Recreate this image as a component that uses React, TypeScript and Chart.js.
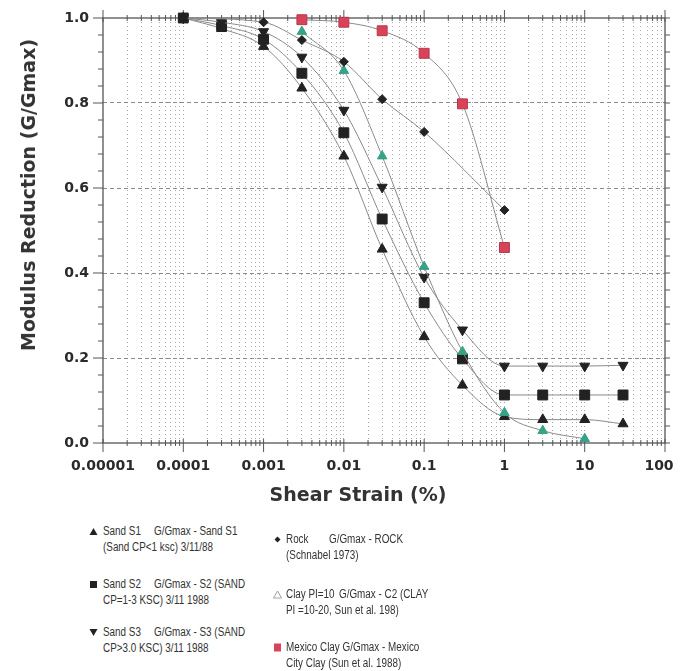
import React, { useEffect, useRef } from 'react';
import { Chart, registerables } from 'chart.js';

Chart.register(...registerables);

// ---- data ----
const sandStrain = [0.0001, 0.0003, 0.001, 0.003, 0.01, 0.03, 0.1, 0.3, 1, 3, 10, 30];
const sandS1 = [1.0, 0.975, 0.933, 0.835, 0.675, 0.456, 0.25, 0.136, 0.062, 0.055, 0.055, 0.045];
const sandS2 = [1.0, 0.982, 0.95, 0.87, 0.73, 0.527, 0.33, 0.198, 0.113, 0.113, 0.113, 0.113];
const sandS3 = [1.0, 0.99, 0.968, 0.908, 0.783, 0.602, 0.39, 0.266, 0.181, 0.181, 0.181, 0.183];
const rockStrain = [0.0001, 0.001, 0.003, 0.01, 0.03, 0.1, 1];
const rock = [1.0, 0.99, 0.948, 0.897, 0.809, 0.732, 0.548];
const clayStrain = [0.003, 0.01, 0.03, 0.1, 0.3, 1, 3, 10];
const clayPI10 = [0.968, 0.876, 0.675, 0.415, 0.215, 0.071, 0.029, 0.01];
const mexicoStrain = [0.003, 0.01, 0.03, 0.1, 0.3, 1];
const mexicoClay = [0.996, 0.99, 0.97, 0.917, 0.798, 0.46];

const xTickLabels = ['0.00001', '0.0001', '0.001', '0.01', '0.1', '1', '10', '100'];
const yTickLabels = ['0.0', '0.2', '0.4', '0.6', '0.8', '1.0'];
const xTitle = 'Shear Strain (%)';
const yTitle = 'Modulus Reduction (G/Gmax)';

const legendItems = [
  { marker: 'triUp', col: 0, row: 0, head: 'Sand S1', tail: 'G/Gmax - Sand S1', line2: '(Sand CP<1 ksc) 3/11/88' },
  { marker: 'square', col: 0, row: 1, head: 'Sand S2', tail: 'G/Gmax - S2 (SAND', line2: 'CP=1-3 KSC) 3/11 1988' },
  { marker: 'triDown', col: 0, row: 2, head: 'Sand S3', tail: 'G/Gmax - S3 (SAND', line2: 'CP>3.0 KSC) 3/11 1988' },
  { marker: 'diamond', col: 1, row: 0, head: 'Rock', tail: 'G/Gmax - ROCK', line2: '(Schnabel 1973)' },
  { marker: 'triOpen', col: 1, row: 1, head: 'Clay PI=10', tail: 'G/Gmax - C2 (CLAY', line2: 'PI =10-20, Sun et al. 198)' },
  { marker: 'redSquare', col: 1, row: 2, head: 'Mexico Clay G/Gmax - Mexico', tail: '', line2: 'City Clay (Sun et al. 1988)' },
];

const toXY = (xs: number[], ys: number[]) => xs.map((x, i) => ({ x, y: ys[i] }));

const LINE = '#8a8a8a';
const DARK = '#222';
const GREEN = '#35a386';
const RED = '#d8435a';
const TICK_TEXT = '#2a2a2a';

const W = 667;
const H = 502;
const PLOT_BOTTOM = 435;
const LAST_X_TICK = 63;

const framePlugin = {
  id: 'frame',
  beforeDatasetsDraw(chart: any) {
    const { ctx, chartArea, scales } = chart;
    const { left, right, top, bottom } = chartArea;
    const x = scales.x;
    const y = scales.y;
    ctx.save();
    ctx.strokeStyle = '#555';
    ctx.lineWidth = 1.3;
    ctx.strokeRect(left, top, right - left, bottom - top);
    ctx.beginPath();
    y.ticks.forEach((t: any, i: number) => {
      const py = y.getPixelForValue(t.value);
      const major = i % 5 === 0;
      ctx.moveTo(left - (major ? 10 : 5), py);
      ctx.lineTo(left, py);
      ctx.moveTo(right, py);
      ctx.lineTo(right + 5, py);
    });
    x.ticks.forEach((t: any, i: number) => {
      const px = x.getPixelForValue(t.value);
      const major = i % 9 === 0;
      ctx.moveTo(px, bottom - (major ? 4 : 3));
      ctx.lineTo(px, bottom + (major ? 9 : 3));
      ctx.moveTo(px, top + (major ? 4 : 3));
      ctx.lineTo(px, top - (major ? 8 : 3));
    });
    ctx.lineWidth = 1;
    ctx.stroke();
    ctx.restore();
  },
  afterDraw(chart: any) {
    // last x label ("100") nudged inward so it stays within the canvas
    const { ctx, chartArea } = chart;
    const x = chart.scales.x;
    const items = x.getLabelItems ? x.getLabelItems() : [];
    const ref0 = items && items.length ? items[0] : null;
    if (!ref0) return;
    ctx.save();
    ctx.font = ref0.font.string;
    ctx.fillStyle = TICK_TEXT;
    ctx.textAlign = 'center';
    ctx.textBaseline = ref0.options.textBaseline;
    ctx.fillText(xTickLabels[xTickLabels.length - 1], chartArea.right - 6, ref0.options.translation[1] + (ref0.textOffset || 0));
    ctx.restore();
  },
};

function ChartCanvas() {
  const ref = useRef<HTMLCanvasElement | null>(null);
  useEffect(() => {
    if (!ref.current) return;
    const common = {
      borderColor: LINE,
      borderWidth: 1,
      cubicInterpolationMode: 'monotone' as const,
      clip: false as const,
      pointBorderWidth: 1,
    };
    const chart = new Chart(ref.current, {
      type: 'line',
      data: {
        datasets: [
          { ...common, label: 'Rock', data: toXY(rockStrain, rock), pointStyle: 'rectRot', pointRadius: 4.5, pointBackgroundColor: DARK, pointBorderColor: DARK },
          { ...common, label: 'Mexico Clay', data: toXY(mexicoStrain, mexicoClay), pointStyle: 'rect', pointRadius: 7, pointBackgroundColor: RED, pointBorderColor: '#b8354a' },
          { ...common, label: 'Clay PI=10', data: toXY(clayStrain, clayPI10), pointStyle: 'triangle', pointRadius: 5.5, pointBackgroundColor: GREEN, pointBorderColor: GREEN },
          { ...common, label: 'Sand S3', data: toXY(sandStrain, sandS3), pointStyle: 'triangle', pointRotation: 180, pointRadius: 5.8, pointBackgroundColor: DARK, pointBorderColor: DARK },
          { ...common, label: 'Sand S2', data: toXY(sandStrain, sandS2), pointStyle: 'rect', pointRadius: 7, pointBackgroundColor: DARK, pointBorderColor: DARK },
          { ...common, label: 'Sand S1', data: toXY(sandStrain, sandS1), pointStyle: 'triangle', pointRadius: 5.8, pointBackgroundColor: DARK, pointBorderColor: DARK },
        ],
      },
      options: {
        animation: false,
        responsive: false,
        events: [],
        layout: { padding: { top: 10, right: 0, left: 0, bottom: 0 } },
        plugins: { legend: { display: false }, tooltip: { enabled: false }, title: { display: false } },
        scales: {
          x: {
            type: 'logarithmic',
            min: 0.00001,
            max: 100,
            border: { display: false, dash: [1, 3] },
            grid: {
              drawTicks: false,
              color: (c: any) => (c.index === 0 || c.index === LAST_X_TICK ? 'rgba(0,0,0,0)' : '#a8a8a8'),
              lineWidth: 1,
            },
            afterBuildTicks: (scale: any) => {
              const ticks: any[] = [];
              for (let e = -5; e <= 2; e++) {
                for (let m = 1; m <= 9; m++) {
                  if (e === 2 && m > 1) break;
                  ticks.push({ value: m * Math.pow(10, e) });
                }
              }
              scale.ticks = ticks;
            },
            afterFit: (scale: any) => {
              scale.height = H - PLOT_BOTTOM;
              scale.paddingLeft = 0;
              scale.paddingRight = 10;
            },
            ticks: {
              autoSkip: false,
              maxRotation: 0,
              minRotation: 0,
              padding: 15,
              color: TICK_TEXT,
              font: { family: 'DejaVu Sans', weight: 'bold', size: 14 },
              callback: (_v: any, i: number) => (i % 9 === 0 && i !== LAST_X_TICK ? xTickLabels[i / 9] : ''),
            },
          },
          y: {
            type: 'linear',
            min: 0,
            max: 1,
            border: { display: false, dash: [4, 3] },
            grid: {
              drawTicks: false,
              color: (c: any) => {
                const v = c.tick ? c.tick.value : 0;
                const k = Math.round(v * 5);
                const isMajor = Math.abs(v * 5 - k) < 1e-6;
                return isMajor && k > 0 && k < 5 ? '#8a8a8a' : 'rgba(0,0,0,0)';
              },
              lineWidth: 1,
            },
            afterBuildTicks: (scale: any) => {
              const ticks: any[] = [];
              for (let i = 0; i <= 25; i++) ticks.push({ value: Math.round(i * 4) / 100 });
              scale.ticks = ticks;
            },
            afterFit: (scale: any) => {
              scale.width = 95;
              scale.paddingTop = 0;
              scale.paddingBottom = 0;
            },
            ticks: {
              autoSkip: false,
              padding: 14,
              color: TICK_TEXT,
              font: { family: 'DejaVu Sans', weight: 'bold', size: 14 },
              callback: (_v: any, i: number) => (i % 5 === 0 ? yTickLabels[i / 5] : ''),
            },
          },
        },
      } as any,
      plugins: [framePlugin],
    });
    return () => chart.destroy();
  }, []);
  return <canvas ref={ref} width={W} height={H} style={{ position: 'absolute', left: 0, top: 0, width: W, height: H }} />;
}

function Marker({ kind }: { kind: string }) {
  const s = 9;
  let shape: React.ReactNode = null;
  if (kind === 'triUp') shape = <polygon points="4.5,1 8.5,8 0.5,8" fill="#222" />;
  if (kind === 'triDown') shape = <polygon points="0.5,1 8.5,1 4.5,8" fill="#222" />;
  if (kind === 'square') shape = <rect x="1" y="1" width="7" height="7" fill="#222" />;
  if (kind === 'diamond') shape = <polygon points="4.5,1.5 7.5,4.5 4.5,7.5 1.5,4.5" fill="#222" />;
  if (kind === 'triOpen') shape = <polygon points="4.5,1 8.5,8 0.5,8" fill="none" stroke="#999" strokeWidth="0.9" />;
  if (kind === 'redSquare') shape = <rect x="1" y="0.5" width="7" height="8" fill={RED} />;
  return (
    <svg width={s} height={s} viewBox="0 0 9 9" style={{ display: 'block' }}>
      {shape}
    </svg>
  );
}

function Legend() {
  const colX = [85, 269]; // marker centers (container coords)
  const textX = [95, 278];
  const tailDx = [51, 43];
  const firstLineY = [[523, 576, 624], [531, 586, 639]];
  const font: React.CSSProperties = {
    position: 'absolute',
    fontFamily: "'Liberation Sans', Arial, sans-serif",
    fontSize: 12.5,
    lineHeight: '16px',
    height: 16,
    color: '#333',
    whiteSpace: 'nowrap',
    transform: 'scaleX(0.79)',
    transformOrigin: 'left center',
  };
  return (
    <>
      {legendItems.map((it, k) => {
        const cy = firstLineY[it.col][it.row];
        const tx = textX[it.col];
        const dx = it.col === 1 && it.row === 1 ? 53 : tailDx[it.col];
        return (
          <React.Fragment key={k}>
            <div style={{ position: 'absolute', left: colX[it.col] - 4.5, top: cy - 4.5 }}>
              <Marker kind={it.marker} />
            </div>
            <div style={{ ...font, left: tx, top: cy - 8 }}>{it.head}</div>
            {it.tail ? <div style={{ ...font, left: tx + dx, top: cy - 8 }}>{it.tail}</div> : null}
            <div style={{ ...font, left: tx, top: cy + 8 }}>{it.line2}</div>
          </React.Fragment>
        );
      })}
    </>
  );
}

export default function App() {
  useEffect(() => {
    const prevHtml = document.documentElement.style.overflow;
    document.documentElement.style.overflow = 'hidden';
    return () => {
      document.documentElement.style.overflow = prevHtml;
    };
  }, []);
  const titleFont: React.CSSProperties = {
    position: 'absolute',
    fontFamily: "'DejaVu Sans', sans-serif",
    fontWeight: 'bold',
    fontSize: 19,
    color: '#333',
    whiteSpace: 'nowrap',
    lineHeight: '22px',
  };
  return (
    <div style={{ position: 'relative', width: 667, height: 663, background: '#fff' }}>
      <ChartCanvas />
      <div style={{ ...titleFont, left: 20, top: 187, transform: 'translate(-50%, -50%) rotate(-90deg)' }}>{yTitle}</div>
      <div style={{ ...titleFont, left: 350, top: 486, transform: 'translate(-50%, -50%)' }}>{xTitle}</div>
      <Legend />
    </div>
  );
}
